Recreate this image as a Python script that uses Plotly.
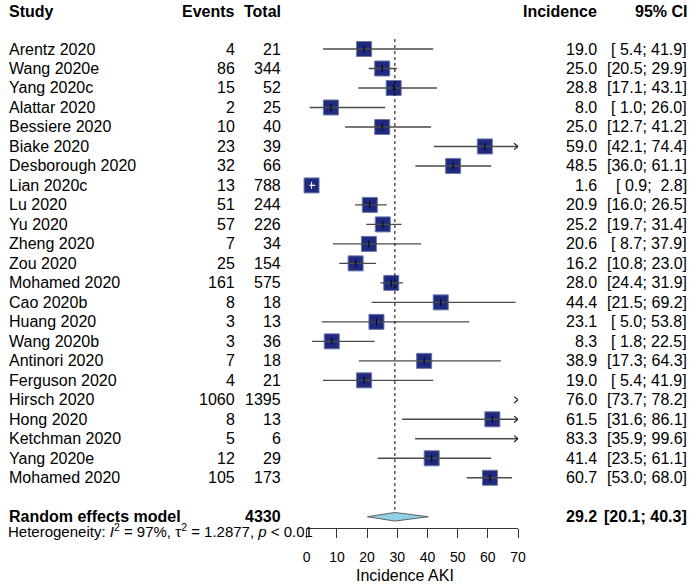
import plotly.graph_objects as go

# ---------------- data ----------------
studies = ["Arentz 2020", "Wang 2020e", "Yang 2020c", "Alattar 2020", "Bessiere 2020",
           "Biake 2020", "Desborough 2020", "Lian 2020c", "Lu 2020", "Yu 2020",
           "Zheng 2020", "Zou 2020", "Mohamed 2020", "Cao 2020b", "Huang 2020",
           "Wang 2020b", "Antinori 2020", "Ferguson 2020", "Hirsch 2020", "Hong 2020",
           "Ketchman 2020", "Yang 2020e", "Mohamed 2020"]
events = [4, 86, 15, 2, 10, 23, 32, 13, 51, 57, 7, 25, 161, 8, 3, 3, 7, 4, 1060, 8, 5, 12, 105]
totals = [21, 344, 52, 25, 40, 39, 66, 788, 244, 226, 34, 154, 575, 18, 13, 36, 18, 21, 1395, 13, 6, 29, 173]
incidence = [19.0, 25.0, 28.8, 8.0, 25.0, 59.0, 48.5, 1.6, 20.9, 25.2, 20.6, 16.2, 28.0,
             44.4, 23.1, 8.3, 38.9, 19.0, 76.0, 61.5, 83.3, 41.4, 60.7]
lower = [5.4, 20.5, 17.1, 1.0, 12.7, 42.1, 36.0, 0.9, 16.0, 19.7, 8.7, 10.8, 24.4,
         21.5, 5.0, 1.8, 17.3, 5.4, 73.7, 31.6, 35.9, 23.5, 53.0]
upper = [41.9, 29.9, 43.1, 26.0, 41.2, 74.4, 61.1, 2.8, 26.5, 31.4, 37.9, 23.0, 31.9,
         69.2, 53.8, 22.5, 64.3, 41.9, 78.2, 86.1, 99.6, 61.1, 68.0]
pooled_est, pooled_lo, pooled_hi = 29.2, 20.1, 40.3
heterogeneity = "Heterogeneity: <i>I</i><sup>2</sup> = 97%, τ<sup>2</sup> = 1.2877, <i>p</i> &lt; 0.01"
x_ticks = [0, 10, 20, 30, 40, 50, 60, 70]
x_title = "Incidence AKI"
headers = ["Study", "Events", "Total", "Incidence", "95% CI"]

# ---------------- style ----------------
W, H = 700, 586
FONT = "Liberation Sans, Arial, sans-serif"
XMIN, XMAX = 0, 70
X0_PX, X1_PX = 308, 523
ROW0_PX, ROW_PX = 49, 19.49
SQ = 15
px_per_unit = (X1_PX - X0_PX) / (XMAX - XMIN)
navy = "#1f2a7e"
line_col = "#4a4a4a"

n = len(studies)
rows = list(range(n))
pooled_row = n + 1

fig = go.Figure()

# squares
sq_x, sq_y = [], []
for r, est in zip(rows, incidence):
    if XMIN <= est <= XMAX:
        sq_x.append(est)
        sq_y.append(r)
fig.add_trace(go.Scatter(x=sq_x, y=sq_y, mode="markers", cliponaxis=False,
                         marker=dict(symbol="square", size=SQ, color=navy,
                                     line=dict(color="#6b77aa", width=1)),
                         hoverinfo="skip", showlegend=False))

# CI lines and arrows
def nf(v):
    return f"{v:4.1f}".replace(" ", "\u00a0")

lx_b, ly_b, lx_w, ly_w = [], [], [], []
ax_, ay_ = [], []
tx_b, ty_b, tx_w, ty_w = [], [], [], []
dx = 4 / px_per_unit
dy = 3.2 / ROW_PX
for r, est, lo, hi in zip(rows, incidence, lower, upper):
    inside = (hi - lo) * px_per_unit < SQ
    lx, ly = (lx_w, ly_w) if inside else (lx_b, ly_b)
    if lo < XMAX:
        lx += [max(lo, XMIN), min(hi, XMAX), None]
        ly += [r, r, None]
    if hi > XMAX:
        ax_ += [XMAX - dx, XMAX, XMAX - dx, None]
        ay_ += [r - dy, r, r + dy, None]
    if XMIN <= est <= XMAX:
        if inside:
            tx_w.append(est); ty_w.append(r)
        else:
            tx_b.append(est); ty_b.append(r)

fig.add_trace(go.Scatter(x=lx_b, y=ly_b, mode="lines", cliponaxis=False,
                         line=dict(color=line_col, width=1.4), hoverinfo="skip", showlegend=False))
fig.add_trace(go.Scatter(x=lx_w, y=ly_w, mode="lines", cliponaxis=False,
                         line=dict(color="white", width=1.2), hoverinfo="skip", showlegend=False))
fig.add_trace(go.Scatter(x=ax_, y=ay_, mode="lines", cliponaxis=False,
                         line=dict(color="#222", width=1.2), hoverinfo="skip", showlegend=False))
fig.add_trace(go.Scatter(x=tx_b, y=ty_b, mode="markers", cliponaxis=False,
                         marker=dict(symbol="line-ns", size=5, line=dict(color="black", width=1)),
                         hoverinfo="skip", showlegend=False))
fig.add_trace(go.Scatter(x=tx_w, y=ty_w, mode="markers", cliponaxis=False,
                         marker=dict(symbol="line-ns", size=5, line=dict(color="white", width=1)),
                         hoverinfo="skip", showlegend=False))

# dotted reference line at pooled estimate
fig.add_trace(go.Scatter(x=[pooled_est, pooled_est], y=[-0.51, pooled_row - 0.36], mode="lines",
                         cliponaxis=False, line=dict(color="black", width=1, dash="dot"),
                         hoverinfo="skip", showlegend=False))

# diamond
hd = 0.22
fig.add_trace(go.Scatter(x=[pooled_lo, pooled_est, pooled_hi, pooled_est, pooled_lo],
                         y=[pooled_row, pooled_row - hd, pooled_row, pooled_row + hd, pooled_row],
                         mode="lines", fill="toself", fillcolor="#8fd0e6", cliponaxis=False,
                         line=dict(color="#606060", width=1), hoverinfo="skip", showlegend=False))

# ---------------- text ----------------
ann = []
def txt(xpx, y, s, anchor, size=16, bold=False):
    ann.append(dict(x=xpx / W, xref="paper", y=y, yref="y", text=f"<b>{s}</b>" if bold else s,
                    showarrow=False, xanchor=anchor, yanchor="middle",
                    font=dict(family=FONT, size=size, color="black")))

col_px = [3, 237, 284, 605, 697]
anchors = ["left", "right", "right", "right", "right"]
hdr_row = -1.91
for h, cx, a in zip(headers, col_px, anchors):
    txt(cx, hdr_row, h, a, bold=True)

for r in rows:
    txt(col_px[0], r, studies[r], "left")
    txt(col_px[1], r, str(events[r]), "right")
    txt(col_px[2], r, str(totals[r]), "right")
    txt(col_px[3], r, f"{incidence[r]:.1f}", "right")
    txt(col_px[4], r, f"[{nf(lower[r])}; {nf(upper[r])}]", "right")

txt(col_px[0], pooled_row, "Random effects model", "left", bold=True)
txt(col_px[2], pooled_row, str(sum(totals)), "right", bold=True)
txt(col_px[3], pooled_row, f"{pooled_est:.1f}", "right", bold=True)
txt(col_px[4], pooled_row, f"[{nf(pooled_lo)}; {nf(pooled_hi)}]", "right", bold=True)
txt(2, pooled_row + 0.7, heterogeneity, "left", size=15)

# axis title
ann.append(dict(x=408 / W, xref="paper", y=1 - 575 / H, yref="paper", text=x_title,
                showarrow=False, xanchor="center", yanchor="middle",
                font=dict(family=FONT, size=16, color="black")))

y_top = -ROW0_PX / ROW_PX
y_bot = (H - ROW0_PX) / ROW_PX

fig.update_layout(
    width=W, height=H, margin=dict(l=0, r=0, t=0, b=0),
    paper_bgcolor="white", plot_bgcolor="white",
    annotations=ann, showlegend=False,
    xaxis=dict(domain=[X0_PX / W, X1_PX / W], range=[XMIN, XMAX], anchor="free",
               position=1 - 528 / H, showgrid=False, zeroline=False,
               showline=True, linecolor="#333", linewidth=1,
               ticks="outside", ticklen=9, tickcolor="#333", tickwidth=1,
               ticklabelstandoff=7,
               tickvals=x_ticks, ticktext=[str(t) for t in x_ticks],
               tickfont=dict(family=FONT, size=14, color="black")),
    yaxis=dict(domain=[0, 1], range=[y_bot, y_top], visible=False),
)

fig.write_html("out.html", config={"displayModeBar": False},
               post_script="document.body.style.margin='0px';document.body.style.overflow='hidden';")
